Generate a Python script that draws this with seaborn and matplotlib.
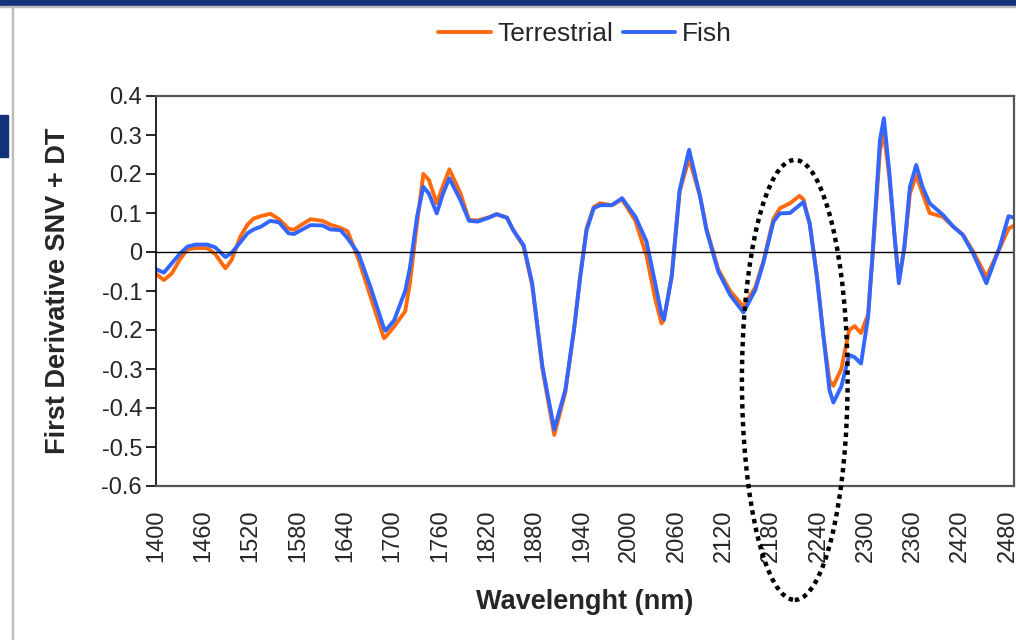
import pandas as pd
import matplotlib.pyplot as plt
import seaborn as sns
from matplotlib.patches import Ellipse, Rectangle
from matplotlib.lines import Line2D

# -------------------------------
# 1. DATA
# -------------------------------
wavelength = [1400, 1410, 1420, 1430, 1440, 1450, 1465, 1475, 1488, 1496,
              1507, 1516, 1524, 1533, 1545, 1556, 1568, 1575, 1583, 1596,
              1611, 1621, 1634, 1643, 1657, 1672, 1689, 1691, 1702, 1716,
              1722, 1731, 1739, 1746, 1756, 1764, 1772, 1786, 1797, 1808,
              1822, 1832, 1845, 1853, 1866, 1877, 1890, 1905, 1919, 1930,
              1938, 1946, 1955, 1963, 1978, 1991, 2008, 2022, 2033, 2041,
              2044, 2054, 2064, 2076, 2090, 2098, 2113, 2128, 2145, 2160,
              2170, 2183, 2191, 2204, 2216, 2221, 2229, 2238, 2246, 2254,
              2259, 2269, 2279, 2286, 2294, 2303, 2309, 2318, 2323, 2330,
              2337, 2342, 2349, 2356, 2364, 2372, 2381, 2398, 2411, 2423,
              2436, 2453, 2470, 2481, 2488]

terrestrial = [-0.056, -0.072, -0.055, -0.020, 0.007, 0.010, 0.010, -0.005, -0.042, -0.020,
               0.040, 0.070, 0.086, 0.092, 0.098, 0.084, 0.060, 0.057, 0.068, 0.084,
               0.080, 0.070, 0.062, 0.053, -0.020, -0.114, -0.221, -0.218, -0.191, -0.152,
               -0.080, 0.074, 0.200, 0.185, 0.125, 0.170, 0.212, 0.151, 0.082, 0.081,
               0.089, 0.097, 0.088, 0.056, 0.015, -0.085, -0.300, -0.469, -0.360, -0.200,
               -0.060, 0.060, 0.115, 0.125, 0.120, 0.135, 0.080, -0.010, -0.120, -0.183,
               -0.175, -0.060, 0.155, 0.240, 0.142, 0.060, -0.045, -0.100, -0.140, -0.090,
               -0.025, 0.085, 0.112, 0.125, 0.144, 0.135, 0.070, -0.060, -0.210, -0.330,
               -0.343, -0.300, -0.200, -0.190, -0.208, -0.160, 0.000, 0.260, 0.304, 0.190,
               0.030, -0.070, 0.010, 0.150, 0.197, 0.150, 0.100, 0.090, 0.065, 0.045,
               0.002, -0.064, 0.010, 0.060, 0.068]

fish = [-0.044, -0.053, -0.029, -0.005, 0.014, 0.019, 0.019, 0.012, -0.013, -0.002,
        0.025, 0.048, 0.058, 0.065, 0.080, 0.076, 0.048, 0.046, 0.055, 0.069,
        0.068, 0.058, 0.056, 0.035, -0.005, -0.090, -0.195, -0.202, -0.175, -0.100,
        -0.040, 0.090, 0.167, 0.150, 0.099, 0.150, 0.189, 0.133, 0.080, 0.078,
        0.088, 0.097, 0.088, 0.056, 0.018, -0.080, -0.294, -0.455, -0.354, -0.200,
        -0.063, 0.056, 0.112, 0.120, 0.120, 0.138, 0.090, 0.027, -0.080, -0.160,
        -0.173, -0.063, 0.159, 0.262, 0.142, 0.056, -0.050, -0.110, -0.155, -0.097,
        -0.029, 0.078, 0.099, 0.100, 0.120, 0.128, 0.073, -0.063, -0.209, -0.354,
        -0.386, -0.345, -0.264, -0.270, -0.286, -0.166, 0.005, 0.287, 0.343, 0.202,
        0.031, -0.080, 0.014, 0.167, 0.223, 0.167, 0.125, 0.095, 0.065, 0.044,
        -0.003, -0.080, 0.014, 0.092, 0.088]

x_ticks = list(range(1400, 2481, 60))
y_ticks = [0.4, 0.3, 0.2, 0.1, 0, -0.1, -0.2, -0.3, -0.4, -0.5, -0.6]

df = pd.DataFrame({'wl': wavelength, 'Terrestrial': terrestrial, 'Fish': fish})
long_df = df.melt(id_vars='wl', var_name='series', value_name='value')

# -------------------------------
# 2. STYLE
# -------------------------------
sns.set_style('white')
plt.rcParams['font.family'] = ['Liberation Sans', 'DejaVu Sans']

colors = {'Terrestrial': '#FF6A0D', 'Fish': '#3366FF'}

fig = plt.figure(figsize=(10.16, 6.4), dpi=100)
ax = fig.add_axes([156 / 1016, 1 - 486 / 640, (1014 - 156) / 1016, 390 / 640])

# -------------------------------
# 3. PLOT
# -------------------------------
sns.lineplot(data=long_df, x='wl', y='value', hue='series', palette=colors,
             linewidth=2.8, ax=ax, legend=False)
ax.axhline(0, color='black', lw=1)

ax.set_xlim(1400, 2488)
ax.set_ylim(-0.6, 0.4)
ax.set_xticks(x_ticks)
ax.set_xticklabels([str(t) for t in x_ticks], rotation=90)
ax.set_yticks(y_ticks)
ax.set_yticklabels(['0' if t == 0 else f'{t:.1f}' for t in y_ticks])
ax.tick_params(axis='y', direction='out', length=7, width=1.2, pad=3,
               labelsize=17, left=True, color='black')
ax.tick_params(axis='x', length=0, pad=17, labelsize=17)

ax.set_xlabel('Wavelenght (nm)', fontsize=19.5, fontweight='bold', labelpad=19)
ax.set_ylabel('First Derivative SNV + DT', fontsize=19.5, fontweight='bold', labelpad=22)

for side in ['top', 'right', 'bottom']:
    ax.spines[side].set_color('#555555')
    ax.spines[side].set_linewidth(1.6)
ax.spines['left'].set_color('black')
ax.spines['left'].set_linewidth(1.2)

# dotted ellipse marking the 2180-2260 nm region
ell = Ellipse((2210, -0.328), width=134, height=1.128, fill=False,
              edgecolor='black', linewidth=3.2, linestyle=(0, (1, 1)),
              clip_on=False, zorder=5)
ax.add_patch(ell)

handles = [Line2D([], [], color=colors['Terrestrial'], lw=2.8),
           Line2D([], [], color=colors['Fish'], lw=2.8)]
fig.legend(handles, ['Terrestrial', 'Fish'], loc='center',
           bbox_to_anchor=(585 / 1016, 1 - 34 / 640), ncol=2, frameon=False,
           fontsize=19, handlelength=2.0, handletextpad=0.25, columnspacing=0.35)

# slide decorations around the chart
fig.patches.append(Rectangle((0, 1 - 6 / 640), 1, 6 / 640, transform=fig.transFigure,
                             color='#12337A', zorder=0))
fig.patches.append(Rectangle((0, 1 - 7 / 640), 1, 1 / 640, transform=fig.transFigure,
                             color='#BBBBBB', zorder=0))
fig.patches.append(Rectangle((12 / 1016, 0), 1 / 1016, 1 - 7 / 640, transform=fig.transFigure,
                             color='#BBBBBB', zorder=0))
fig.patches.append(Rectangle((0, 1 - 157 / 640), 8 / 1016, 42 / 640, transform=fig.transFigure,
                             color='#12337A', zorder=0))

fig.savefig('out.png', dpi=100)
